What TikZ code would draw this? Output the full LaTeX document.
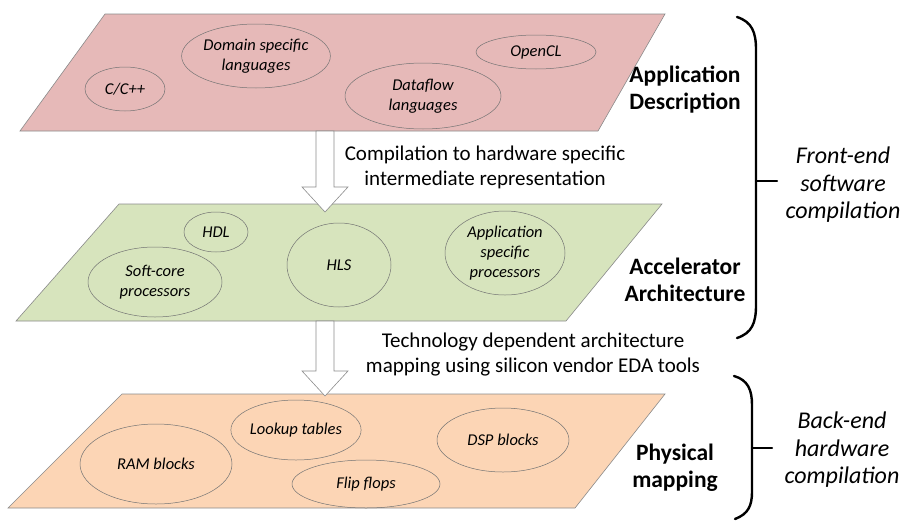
\documentclass[tikz,border=0pt]{standalone}
\usepackage{fontspec}
\setmainfont{Carlito}
\usetikzlibrary{shapes.geometric}
\definecolor{pinkp}{HTML}{E6B9B8}
\definecolor{greenp}{HTML}{D7E4BD}
\definecolor{peachp}{HTML}{FCD5B5}
\definecolor{edgegray}{HTML}{8A8A8A}
\tikzset{
  plane/.style={draw=edgegray, line width=0.6pt},
  blob/.style={ellipse, draw=black!55, line width=0.5pt, inner sep=0pt, align=center,
    font=\fontsize{16.5}{20}\selectfont\itshape},
  layerlabel/.style={align=center, font=\fontsize{23.5}{27}\selectfont\bfseries},
  steplabel/.style={align=center, font=\fontsize{21}{25}\selectfont},
  sidelabel/.style={align=center, font=\fontsize{24}{27.5}\selectfont\itshape},
  blockarrow/.style={draw=black!45, fill=white, line width=0.6pt, line join=miter},
  bracestyle/.style={draw=black, line width=2.4pt, line cap=round}
}
\begin{document}
\begin{tikzpicture}[x=1pt,y=-1pt]
\useasboundingbox (0,0) rectangle (901,522);
% planes
\draw[plane, fill=pinkp] (105,14) -- (665,14) -- (598,131) -- (20,131) -- cycle;
\draw[plane, fill=greenp] (119,204) -- (662,204) -- (566,321) -- (16,321) -- cycle;
\draw[plane, fill=peachp] (122,394) -- (665,394) -- (575,508) -- (8,508) -- cycle;
% ellipses plane 1
\node[blob, minimum width=80, minimum height=44] (cpp) at (125,89) {C/C++};
\node[blob, minimum width=140, minimum height=64] (dsl) at (256,56) {Domain specific\\languages};
\node[blob, minimum width=156, minimum height=66] (dfl) at (423,96) {Dataflow\\languages};
\node[blob, minimum width=120, minimum height=34] (ocl) at (536,52) {OpenCL};
% ellipses plane 2
\node[blob, minimum width=64, minimum height=40] (hdl) at (216,232) {HDL};
\node[blob, minimum width=134, minimum height=70] (scp) at (155,282) {Soft-core\\processors};
\node[blob, minimum width=104, minimum height=84] (hls) at (339,265) {HLS};
\node[blob, minimum width=120, minimum height=84] (asp) at (505,253) {Application\\specific\\processors};
% ellipses plane 3
\node[blob, minimum width=130, minimum height=60] (lut) at (296,430) {Lookup tables};
\node[blob, minimum width=132, minimum height=64] (dsp) at (503,440) {DSP blocks};
\node[blob, minimum width=152, minimum height=80] (ram) at (156,464) {RAM blocks};
\node[blob, minimum width=148, minimum height=48] (ff) at (366,484) {Flip flops};
% layer labels
\node[layerlabel] (l1) at (685,90) {Application\\Description};
\node[layerlabel] (l2) at (685,280) {Accelerator\\Architecture};
\node[layerlabel] (l3) at (675,468) {Physical\\mapping};
% block arrows
\coordinate (a1top) at (325,131);
\coordinate (a1tip) at (325,212);
\coordinate (a2top) at (325,321);
\coordinate (a2tip) at (325,396);
\draw[blockarrow] ([xshift=-9]a1top) -- ([xshift=9]a1top) -- ([xshift=9,yshift=25]a1tip) -- ([xshift=23,yshift=25]a1tip) -- (a1tip) -- ([xshift=-23,yshift=25]a1tip) -- ([xshift=-9,yshift=25]a1tip) -- cycle;
\draw[blockarrow] ([xshift=-9]a2top) -- ([xshift=9]a2top) -- ([xshift=9,yshift=25]a2tip) -- ([xshift=23,yshift=25]a2tip) -- (a2tip) -- ([xshift=-23,yshift=25]a2tip) -- ([xshift=-9,yshift=25]a2tip) -- cycle;
\node[steplabel] (s1) at (485,167) {Compilation to hardware specific\\intermediate representation};
\node[steplabel] (s2) at (533,355) {Technology dependent architecture\\mapping using silicon vendor EDA tools};
% braces
\draw[bracestyle] (737,17) .. controls (752,22) and (756,32) .. (756,50) -- (756,305) .. controls (756,323) and (752,333) .. (737,338);
\draw[bracestyle] (756,181) -- (777,181);
\draw[bracestyle] (734,376) .. controls (748,380) and (752,390) .. (752,405) -- (752,492) .. controls (752,506) and (748,514) .. (735,519);
\draw[bracestyle] (752,448) -- (772,448);
\node[sidelabel] (f1) at (843,185) {Front-end\\software\\compilation};
\node[sidelabel] (f2) at (842,450) {Back-end\\hardware\\compilation};
\end{tikzpicture}
\end{document}
